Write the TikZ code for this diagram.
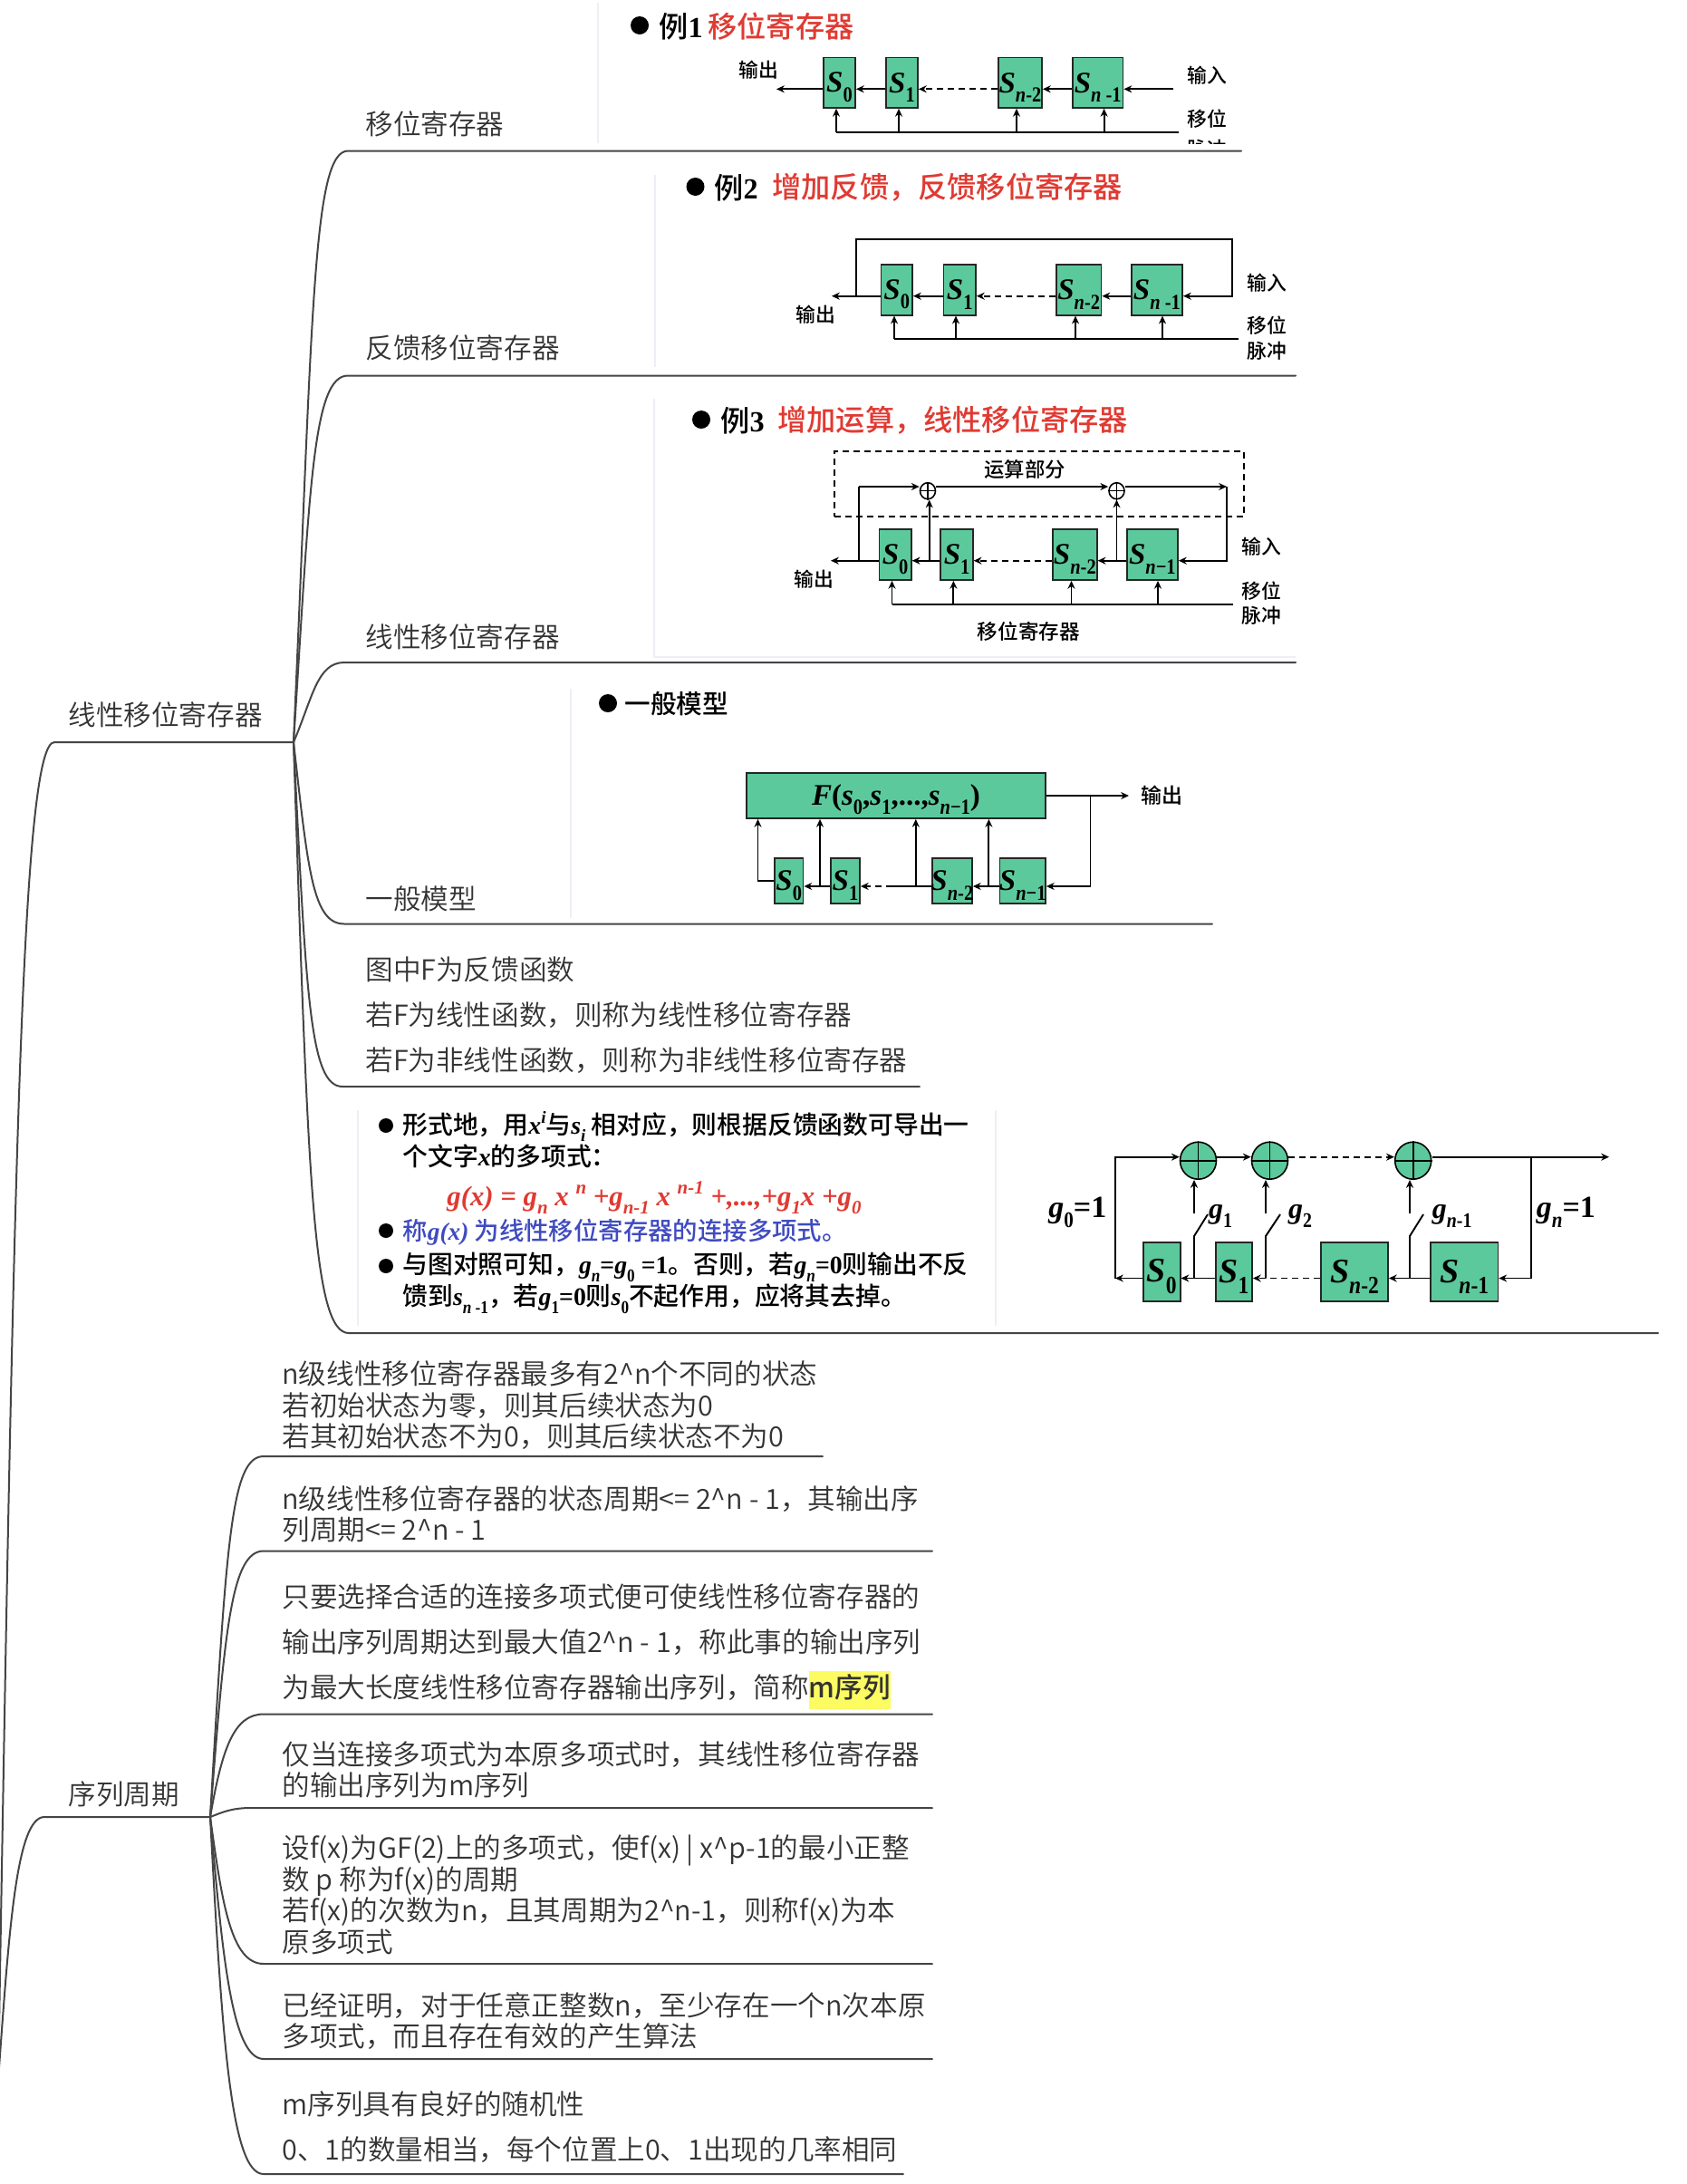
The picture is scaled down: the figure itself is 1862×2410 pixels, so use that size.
\documentclass[tikz,border=0pt]{standalone}
\usepackage{fontspec}
\setmainfont{Noto Sans CJK SC}[UprightFont=* DemiLight,BoldFont=* Medium]
\newfontfamily\medf{Noto Sans CJK SC}[UprightFont=* Medium,BoldFont=* Bold]
\newfontfamily\tmf{Liberation Serif}
\usetikzlibrary{arrows.meta,fit,shapes.geometric}
\definecolor{treeline}{HTML}{454545}
\definecolor{treetext}{HTML}{333333}
\definecolor{reggreen}{HTML}{5CC99C}
\definecolor{faintline}{HTML}{EEEEF6}
\definecolor{titlered}{HTML}{E03A32}
\definecolor{polyblue}{HTML}{3F4BC0}
\definecolor{hlyellow}{HTML}{FCFC62}
\newcommand\ti[1]{{\tmf\bfseries\itshape #1}}
\newcommand\low[1]{\raisebox{-.3em}{\scalebox{.68}{\tmf\bfseries\itshape #1}}}
\newcommand\hgh[1]{\raisebox{.42em}{\scalebox{.68}{\tmf\bfseries\itshape #1}}}
\newcommand\lowu[1]{\raisebox{-.32em}{\scalebox{.62}[.72]{\tmf\bfseries #1}}}
\newcommand\rl[2]{\ti{#1}\lowu{#2}}
\newcommand\regb[6]{\node[regbox,fit={(#2,#3)(#4,#5)}] (#1) {};
  \node[reglab,yshift=-2.6pt] (#1t) at (#1.center) {#6};}
\tikzset{
  branch/.style={draw=treeline,line width=1pt,line cap=round},
  treelab/.style={text=treetext,font=\fontsize{15.3}{17.25}\selectfont,anchor=west,inner sep=0pt,align=left},
  widelab/.style={treelab,font=\fontsize{15.3}{25}\selectfont},
  regbox/.style={draw=black!85,fill=reggreen,line width=.9pt,inner sep=0pt},
  reglab/.style={inner sep=0pt,text=black,font=\fontsize{16.5}{16.5}\selectfont},
  sig/.style={draw=black,line width=.95pt,-{Stealth[length=4.4pt,width=4pt]}},
  dsig/.style={sig,dash pattern=on 3.5pt off 2.5pt},
  plain/.style={draw=black,line width=.95pt},
  smalllab/.style={text=black,font=\medf\fontsize{10.9}{12}\selectfont,inner sep=0pt},
  titlelab/.style={font=\fontsize{16.1}{18}\selectfont\medf,inner sep=0pt,anchor=west},
  dotmark/.style={circle,fill=black,inner sep=0pt,minimum size=#1},
  bodylab/.style={text=black,font=\medf\fontsize{13.9}{15}\selectfont,inner sep=0pt,anchor=west},
  faint/.style={draw=faintline,line width=1pt},
  xorcell/.style={ellipse,draw=black,line width=.8pt,fill=#1,inner sep=0pt},
  dbox/.style={draw=black,line width=.8pt,dash pattern=on 3.5pt off 2.5pt,inner sep=0pt}
}
\begin{document}
\begin{tikzpicture}[x=0.5pt,y=-0.5pt]
\useasboundingbox (0,0) rectangle (1862,2410);
\fill[white] (0,0) rectangle (1862,2410);

% faint image edges
\draw[faint] (660,3) -- (660,158);
\draw[faint] (722.5,193) -- (722.5,405);
\draw[faint] (722,440) -- (722,725) -- (1430,725);
\draw[faint] (630,760) -- (630,1013);
\draw[faint] (394.5,1225) -- (394.5,1463);
\draw[faint] (1099,1225) -- (1099,1463);

% ---------- tree ----------
\coordinate (root) at (-2,2295);
\coordinate (h1) at (324,819);
\coordinate (h1s) at (60,819);
\coordinate (h2) at (232,2005);
\coordinate (h2s) at (49,2005);
\draw[branch] (root) .. controls (15,1300) and (24,819) .. (h1s) -- (h1);
\draw[branch] (root) .. controls (10,2130) and (18,2005) .. (h2s) -- (h2);

\coordinate (b1s) at (384,166.5); \coordinate (b1e) at (1370,166.5);
\coordinate (b2s) at (384,414.5); \coordinate (b2e) at (1430,414.5);
\coordinate (b3s) at (380,731);   \coordinate (b3e) at (1430,731);
\coordinate (b4s) at (380,1019.5);\coordinate (b4e) at (1338,1019.5);
\coordinate (b5s) at (378,1199);  \coordinate (b5e) at (1015,1199);
\coordinate (b6s) at (385,1471);  \coordinate (b6e) at (1830,1471);
\draw[branch] (h1) .. controls (345,350) and (345,166.5) .. (b1s) -- (b1e);
\draw[branch] (h1) .. controls (342,540) and (345,414.5) .. (b2s) -- (b2e);
\draw[branch] (h1) .. controls (345,770) and (350,731) .. (b3s) -- (b3e);
\draw[branch] (h1) .. controls (340,960) and (345,1019.5) .. (b4s) -- (b4e);
\draw[branch] (h1) .. controls (338,1100) and (342,1199) .. (b5s) -- (b5e);
\draw[branch] (h1) .. controls (340,1300) and (345,1471) .. (b6s) -- (b6e);

\coordinate (s1s) at (291,1607);   \coordinate (s1e) at (908,1607);
\coordinate (s2s) at (291,1711.5); \coordinate (s2e) at (1029,1711.5);
\coordinate (s3s) at (291,1891.5); \coordinate (s3e) at (1029,1891.5);
\coordinate (s4s) at (277,1995);   \coordinate (s4e) at (1029,1995);
\coordinate (s5s) at (291,2167);   \coordinate (s5e) at (1029,2167);
\coordinate (s6s) at (291,2272);   \coordinate (s6e) at (1029,2272);
\coordinate (s7s) at (291,2399);   \coordinate (s7e) at (997,2399);
\draw[branch] (h2) .. controls (250,1700) and (255,1607) .. (s1s) -- (s1e);
\draw[branch] (h2) .. controls (248,1800) and (255,1711.5) .. (s2s) -- (s2e);
\draw[branch] (h2) .. controls (245,1930) and (258,1891.5) .. (s3s) -- (s3e);
\draw[branch] (h2) .. controls (245,2000) and (255,1995) .. (s4s) -- (s4e);
\draw[branch] (h2) .. controls (245,2100) and (255,2167) .. (s5s) -- (s5e);
\draw[branch] (h2) .. controls (245,2150) and (255,2272) .. (s6s) -- (s6e);
\draw[branch] (h2) .. controls (245,2250) and (255,2399) .. (s7s) -- (s7e);

% ---------- tree texts ----------
\node[treelab] (troot) at (75,789) {线性移位寄存器};
\node[treelab] (t1) at (403,137) {移位寄存器};
\node[treelab] (t2) at (403,383.5) {反馈移位寄存器};
\node[treelab] (t3) at (403,703) {线性移位寄存器};
\node[treelab] (t4) at (403,992) {一般模型};
\node[widelab] (t5) at (403,1120) {图中F为反馈函数\\若F为线性函数，则称为线性移位寄存器\\若F为非线性函数，则称为非线性移位寄存器};
\node[treelab] (tseq) at (75,1980) {序列周期};
\node[treelab] (u1) at (311,1551) {n级线性移位寄存器最多有2\^{}n个不同的状态\\若初始状态为零，则其后续状态为0\\若其初始状态不为0，则其后续状态不为0};
\node[treelab] (u2) at (311,1671) {n级线性移位寄存器的状态周期<= 2\^{}n - 1，其输出序\\列周期<= 2\^{}n - 1};
\fboxsep=1.5pt
\node[widelab] (u3) at (311,1817) {只要选择合适的连接多项式便可使线性移位寄存器的\\输出序列周期达到最大值2\^{}n - 1，称此事的输出序列\\为最大长度线性移位寄存器输出序列，简称\colorbox{hlyellow}{\hspace{-1.5pt}\rule[-4.5pt]{0pt}{18pt}{\medf m序列}\hspace{-1.5pt}}};
\node[treelab] (u4) at (311,1953) {仅当连接多项式为本原多项式时，其线性移位寄存器\\的输出序列为m序列};
\node[treelab] (u5) at (311,2091) {设f(x)为GF(2)上的多项式，使f(x) | x\^{}p-1的最小正整\\数 p 称为f(x)的周期\\若f(x)的次数为n，且其周期为2\^{}n-1，则称f(x)为本\\原多项式};
\node[treelab] (u6) at (311,2230) {已经证明，对于任意正整数n，至少存在一个n次本原\\多项式，而且存在有效的产生算法};
\node[widelab] (u7) at (311,2347) {m序列具有良好的随机性\\0、1的数量相当，每个位置上0、1出现的几率相同};

% ---------- figure 1 ----------
\node[dotmark=10pt] (d1) at (706,28) {};
\node[titlelab,text=black] (e1a) at (727,29) {例{\tmf\bfseries 1}};
\node[titlelab,text=titlered] (e1b) at (781,29) {移位寄存器};
\regb{a0}{909}{63.5}{944}{119}{\rl{S}{0}}
\regb{a1}{978}{63.5}{1013}{119}{\rl{S}{1}}
\regb{a2}{1102}{63.5}{1150}{119}{\rl{S}{\ti{n}-2}}
\regb{a3}{1184}{63.5}{1239.5}{119}{\rl{S}{\ti{n} -1}}
\coordinate (r1) at (0,98.3);
\coordinate (o1) at (857,98.3);
\coordinate (i1) at (1294.5,98.3);
\draw[sig] (a0.west |- r1) -- (o1);
\draw[sig] (a1.west |- r1) -- (a0.east |- r1);
\draw[dsig] (a2.west |- r1) -- (a1.east |- r1);
\draw[sig] (a3.west |- r1) -- (a2.east |- r1);
\draw[sig] (i1) -- (a3.east |- r1);
\coordinate (c1s) at (923,146); \coordinate (c1e) at (1301,146);
\draw[plain] (c1s) -- (c1e);
\foreach \b/\x in {a0/923,a1/992,a2/1122,a3/1218.6} {\coordinate (tp) at (\x,146); \draw[sig] (tp) -- (\b.south -| tp);}
\node[smalllab] (l1a) at (837,77) {输出};
\node[smalllab] (l1b) at (1332,83) {输入};
\node[smalllab] (l1c) at (1332,131) {移位};
\begin{scope}
\clip (1300,140) rectangle (1370,158);
\node[smalllab] (l1d) at (1332,164) {脉冲};
\end{scope}
\begin{scope}
\clip (1360,193) rectangle (1430,203);
\node[smalllab] (l1e) at (1395,183) {脉冲};
\end{scope}

% ---------- figure 2 ----------
\node[dotmark=10pt] (d2) at (767.5,206) {};
\node[titlelab,text=black] (e2a) at (788,207) {例{\tmf\bfseries 2}};
\node[titlelab,text=titlered] (e2b) at (852,207) {增加反馈，反馈移位寄存器};
\regb{b0}{972.5}{291.7}{1007}{347.7}{\rl{S}{0}}
\regb{b1}{1041.5}{291.7}{1077}{347.7}{\rl{S}{1}}
\regb{b2}{1166}{291.7}{1215.5}{347.7}{\rl{S}{\ti{n}-2}}
\regb{b3}{1248.7}{291.7}{1305}{347.7}{\rl{S}{\ti{n} -1}}
\coordinate (r2) at (0,326.7);
\coordinate (o2) at (918,326.7);
\coordinate (f2a) at (945,326.7);
\coordinate (f2b) at (945,264);
\coordinate (f2c) at (1360,264);
\coordinate (f2d) at (1360,326.7);
\draw[sig] (b0.west |- r2) -- (o2);
\draw[sig] (b1.west |- r2) -- (b0.east |- r2);
\draw[dsig] (b2.west |- r2) -- (b1.east |- r2);
\draw[sig] (b3.west |- r2) -- (b2.east |- r2);
\draw[sig] (f2a) -- (f2b) -- (f2c) -- (f2d) -- (b3.east |- r2);
\coordinate (c2s) at (987,374); \coordinate (c2e) at (1367,374);
\draw[plain] (c2s) -- (c2e);
\foreach \b/\x in {b0/987,b1/1055,b2/1187,b3/1283} {\coordinate (tp) at (\x,374); \draw[sig] (tp) -- (\b.south -| tp);}
\node[smalllab] (l2a) at (900,347) {输出};
\node[smalllab] (l2b) at (1398,312) {输入};
\node[smalllab] (l2c) at (1398,359) {移位};
\node[smalllab] (l2d) at (1398,387) {脉冲};

% ---------- figure 3 ----------
\node[dotmark=10pt] (d3) at (774,463) {};
\node[titlelab,text=black] (e3a) at (795,464) {例{\tmf\bfseries 3}};
\node[titlelab,text=titlered] (e3b) at (858,464) {增加运算，线性移位寄存器};
\node[dbox,fit={(921,498)(1373,570)}] (db) {};
\node[smalllab,font=\medf\fontsize{11.2}{12}\selectfont] (l3t) at (1131,518) {运算部分};
\regb{c0}{970.4}{584}{1005.8}{640}{\rl{S}{0}}
\regb{c1}{1038.3}{584}{1073.8}{640}{\rl{S}{1}}
\regb{c2}{1162}{584}{1210.7}{640}{\rl{S}{\ti{n}-2}}
\regb{c3}{1243.7}{584}{1300}{640}{\rl{S}{\ti{n}−1}}
\node[xorcell=white,minimum width=8.5pt,minimum height=9pt] (p1) at (1024,541.7) {};
\node[xorcell=white,minimum width=8.5pt,minimum height=9pt] (p2) at (1232.5,541.7) {};
\draw[plain,line width=.7pt] (p1.north) -- (p1.south) (p1.west) -- (p1.east);
\draw[plain,line width=.7pt] (p2.north) -- (p2.south) (p2.west) -- (p2.east);
\coordinate (r3) at (0,618.7);
\coordinate (ts) at (0,537);
\coordinate (l3) at (947.6,537);
\coordinate (e3x) at (1354,537);
\coordinate (o3) at (917,618.7);
\draw[sig] (c0.west |- r3) -- (o3);
\draw[sig] (c1.west |- r3) -- (c0.east |- r3);
\draw[dsig] (c2.west |- r3) -- (c1.east |- r3);
\draw[sig] (c3.west |- r3) -- (c2.east |- r3);
\draw[plain] (l3) -- (l3 |- r3);
\draw[sig] (l3) -- (p1.west |- ts);
\draw[sig] (p1.east |- ts) -- (p2.west |- ts);
\draw[sig] (p2.east |- ts) -- (e3x);
\draw[sig] (e3x) -- (e3x |- r3) -- (c3.east |- r3);
\coordinate (tap1) at (1025.7,618.7);
\coordinate (tap2) at (1232.5,618.7);
\draw[sig] (tap1) -- (tap1 |- p1.south);
\draw[sig] (tap2) -- (p2.south);
\coordinate (c3s) at (984.5,667); \coordinate (c3e) at (1361,667);
\draw[plain] (c3s) -- (c3e);
\foreach \b/\x in {c0/984.5,c1/1052.4,c2/1182.5,c3/1278} {\coordinate (tp) at (\x,667); \draw[sig] (tp) -- (\b.south -| tp);}
\node[smalllab] (l3a) at (898,639) {输出};
\node[smalllab] (l3b) at (1392,603) {输入};
\node[smalllab] (l3c) at (1392,651.7) {移位};
\node[smalllab] (l3d) at (1392,679) {脉冲};
\node[smalllab,font=\medf\fontsize{11.3}{12}\selectfont] (l3e) at (1135.4,696.7) {移位寄存器};

% ---------- figure 4 ----------
\node[dotmark=10pt] (d4) at (671,776) {};
\node[titlelab,font=\fontsize{14.3}{16}\selectfont\medf,text=black] (e4a) at (689,777) {一般模型};
\node[regbox,fit={(824,853)(1154,903)}] (fbox) {};
\node[reglab,yshift=-2pt] (fboxt) at (fbox.center) {\ti{F}{\tmf\bfseries (}\rl{s}{0}{\tmf\bfseries ,}\rl{s}{1}{\tmf\bfseries ,...,}\rl{s}{\ti{n}−1}{\tmf\bfseries )}};
\regb{g0}{855}{946.7}{886.5}{997}{\rl{S}{0}}
\regb{g1}{917}{946.7}{949}{997}{\rl{S}{1}}
\regb{g2}{1028.7}{946.7}{1073}{997}{\rl{S}{\ti{n}-2}}
\regb{g3}{1103.5}{946.7}{1154}{997}{\rl{S}{\ti{n}−1}}
\coordinate (r4) at (0,978);
\coordinate (r4o) at (0,878);
\coordinate (o4) at (1246,878);
\coordinate (j4) at (1203.5,878);
\coordinate (s0o) at (836.5,971.7);
\draw[sig] (fbox.east |- r4o) -- (o4);
\draw[sig] (j4) -- (j4 |- r4) -- (g3.east |- r4);
\draw[sig] (g3.west |- r4) -- (g2.east |- r4);
\coordinate (h4b) at (985,978);
\draw[plain] (g2.west |- r4) -- (h4b);
\draw[dsig] (h4b) -- (g1.east |- r4);
\draw[sig] (g1.west |- r4) -- (g0.east |- r4);
\draw[sig] (g0.west |- s0o) -- (s0o) -- (s0o |- fbox.south);
\foreach \x in {905,1010.8,1091.4} {\coordinate (tp) at (\x,978); \draw[sig] (tp) -- (tp |- fbox.south);}
\node[smalllab,font=\medf\fontsize{11.5}{12}\selectfont] (l4a) at (1282.6,878) {输出};

% ---------- text block ----------
\node[dotmark=8pt] (d5) at (426,1242) {};
\node[bodylab] (m1) at (444,1243) {形式地，用\ti{x}\hgh{i}与\ti{s}\low{i} 相对应，则根据反馈函数可导出一};
\node[bodylab] (m2) at (444,1276) {个文字\ti{x}的多项式：};
\node[bodylab,font=\fontsize{15.4}{16}\selectfont,text=titlered] (m3) at (493,1322) {\ti{g(x) = g}\low{n}\ti{ x }\hgh{n}\ti{ +g}\low{n-1}\ti{ x }\hgh{n-1}\ti{ +,...,+g}\low{1}\ti{x +g}\low{0}};
\node[dotmark=8pt] (d6) at (426,1358) {};
\node[bodylab,text=polyblue,font=\medf\fontsize{13.7}{15}\selectfont] (m4) at (444,1360) {称\ti{g(x)} 为线性移位寄存器的连接多项式。};
\node[dotmark=8pt] (d7) at (426,1397) {};
\node[bodylab] (m5) at (444,1398) {与图对照可知，\ti{g}\lowu{\ti{n}}{\tmf\bfseries =}\ti{g}\lowu{0}{\tmf\bfseries{} =1}。否则，若\ti{g}\lowu{\ti{n}}{\tmf\bfseries =0}则输出不反};
\node[bodylab] (m6) at (444,1433) {馈到\ti{s}\lowu{\ti{n} -1}，若\ti{g}\lowu{1}{\tmf\bfseries =0}则\ti{s}\lowu{0}不起作用，应将其去掉。};

% ---------- figure 5 ----------
\regb{q0}{1262}{1371}{1302.6}{1435.7}{\fontsize{19}{19}\selectfont\rl{S}{0}}
\regb{q1}{1342}{1371}{1382}{1435.7}{\fontsize{19}{19}\selectfont\rl{S}{1}}
\regb{q2}{1458}{1371}{1532}{1435.7}{\fontsize{19}{19}\selectfont\rl{S}{\ti{n}-2}}
\regb{q3}{1579}{1371}{1653.4}{1435.7}{\fontsize{19}{19}\selectfont\rl{S}{\ti{n}-1}}
\node[xorcell=reggreen,minimum width=20pt,minimum height=20.5pt] (x1) at (1322.5,1280.7) {};
\node[xorcell=reggreen,minimum width=20pt,minimum height=20.5pt] (x2) at (1401.5,1280.7) {};
\node[xorcell=reggreen,minimum width=20pt,minimum height=20.5pt] (x3) at (1559.7,1280.7) {};
\foreach \n in {x1,x2,x3} {\draw[plain] (\n.north) -- (\n.south) (\n.west) -- (\n.east);}
\coordinate (tp5) at (0,1276.7);
\coordinate (bt5) at (0,1410.5);
\coordinate (lf5) at (1231,1276.7);
\coordinate (ou5) at (1776,1276.7);
\coordinate (jx5) at (1690,1276.7);
\draw[sig] (q0.west |- bt5) -- (lf5 |- bt5);
\draw[sig] (lf5 |- bt5) -- (lf5) -- (x1.west |- tp5);
\draw[sig] (x1.east |- tp5) -- (x2.west |- tp5);
\draw[dsig] (x2.east |- tp5) -- (x3.west |- tp5);
\draw[sig] (x3.east |- tp5) -- (ou5);
\draw[sig] (jx5) -- (jx5 |- bt5) -- (q3.east |- bt5);
\draw[sig] (q3.west |- bt5) -- (q2.east |- bt5);
\draw[dsig] (q2.west |- bt5) -- (q1.east |- bt5);
\draw[sig] (q1.west |- bt5) -- (q0.east |- bt5);
\foreach \c/\x/\xe in {x1/1318/1333,x2/1397/1413,x3/1556/1571} {
  \coordinate (swa) at (\x,1410.5);
  \coordinate (swb) at (\x,1364);
  \coordinate (swc) at (\xe,1340);
  \coordinate (swd) at (\x,1339);
  \draw[plain] (swa) -- (swb) -- (swc);
  \draw[sig] (swd) -- (\c.south -| swd);
}
\node[inner sep=0pt,text=black,font=\fontsize{17}{17}\selectfont] (g0l) at (1189.4,1338) {\rl{g}{0}{\tmf\bfseries =1}};
\node[inner sep=0pt,text=black,font=\fontsize{16}{15}\selectfont] (g1l) at (1347,1342) {\rl{g}{1}};
\node[inner sep=0pt,text=black,font=\fontsize{16}{15}\selectfont] (g2l) at (1435,1342) {\rl{g}{2}};
\node[inner sep=0pt,text=black,font=\fontsize{16}{15}\selectfont] (g3l) at (1602.7,1342) {\rl{g}{\ti{n}-1}};
\node[inner sep=0pt,text=black,font=\fontsize{17}{17}\selectfont] (g4l) at (1728.4,1338) {\rl{g}{\ti{n}}{\tmf\bfseries =1}};
\end{tikzpicture}
\end{document}
